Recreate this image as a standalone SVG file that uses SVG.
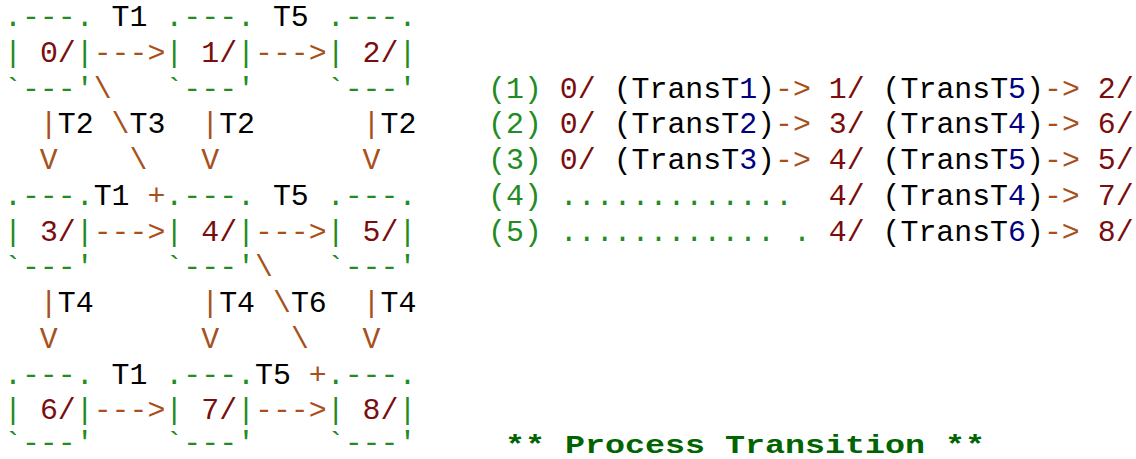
<svg xmlns="http://www.w3.org/2000/svg" width="1136" height="459" viewBox="0 0 1136 459">
<style>
text{font-family:"Liberation Mono","Courier New",monospace;font-size:29.88px;white-space:pre}
.g{fill:#228b22}
.m{fill:#7a0d0d}
.b{fill:#a8501c}
.k{fill:#000000}
.n{fill:#000080}
.title{font-weight:bold;fill:#006400;font-size:26px}
</style>
<rect width="1136" height="459" fill="#ffffff"/>
<g id="node-0">
<text class="g" x="4" y="26">.---.</text>
<text x="4" y="61.75" xml:space="preserve"><tspan class="g">|</tspan> <tspan class="m">0/</tspan><tspan class="g">|</tspan></text>
<text class="g" x="4" y="97.5">`---'</text>
</g>
<g id="node-1">
<text class="g" x="165.37" y="26">.---.</text>
<text x="165.37" y="61.75" xml:space="preserve"><tspan class="g">|</tspan> <tspan class="m">1/</tspan><tspan class="g">|</tspan></text>
<text class="g" x="165.37" y="97.5">`---'</text>
</g>
<g id="node-2">
<text class="g" x="326.74" y="26">.---.</text>
<text x="326.74" y="61.75" xml:space="preserve"><tspan class="g">|</tspan> <tspan class="m">2/</tspan><tspan class="g">|</tspan></text>
<text class="g" x="326.74" y="97.5">`---'</text>
</g>
<g id="node-3">
<text class="g" x="4" y="204.75">.---.</text>
<text x="4" y="240.5" xml:space="preserve"><tspan class="g">|</tspan> <tspan class="m">3/</tspan><tspan class="g">|</tspan></text>
<text class="g" x="4" y="276.25">`---'</text>
</g>
<g id="node-4">
<text class="g" x="165.37" y="204.75">.---.</text>
<text x="165.37" y="240.5" xml:space="preserve"><tspan class="g">|</tspan> <tspan class="m">4/</tspan><tspan class="g">|</tspan></text>
<text class="g" x="165.37" y="276.25">`---'</text>
</g>
<g id="node-5">
<text class="g" x="326.74" y="204.75">.---.</text>
<text x="326.74" y="240.5" xml:space="preserve"><tspan class="g">|</tspan> <tspan class="m">5/</tspan><tspan class="g">|</tspan></text>
<text class="g" x="326.74" y="276.25">`---'</text>
</g>
<g id="node-6">
<text class="g" x="4" y="383.5">.---.</text>
<text x="4" y="419.25" xml:space="preserve"><tspan class="g">|</tspan> <tspan class="m">6/</tspan><tspan class="g">|</tspan></text>
<text class="g" x="4" y="452">`---'</text>
</g>
<g id="node-7">
<text class="g" x="165.37" y="383.5">.---.</text>
<text x="165.37" y="419.25" xml:space="preserve"><tspan class="g">|</tspan> <tspan class="m">7/</tspan><tspan class="g">|</tspan></text>
<text class="g" x="165.37" y="452">`---'</text>
</g>
<g id="node-8">
<text class="g" x="326.74" y="383.5">.---.</text>
<text x="326.74" y="419.25" xml:space="preserve"><tspan class="g">|</tspan> <tspan class="m">8/</tspan><tspan class="g">|</tspan></text>
<text class="g" x="326.74" y="452">`---'</text>
</g>
<g id="connectors">
<text class="k" x="111.58" y="26">T1</text>
<text class="k" x="272.95" y="26">T5</text>
<text class="b" x="93.65" y="61.75">---&gt;</text>
<text class="b" x="255.02" y="61.75">---&gt;</text>
<text class="b" x="93.65" y="97.5">\</text>
<text x="39.86" y="133.25"><tspan class="b">|</tspan><tspan class="k">T2</tspan></text>
<text x="111.58" y="133.25"><tspan class="b">\</tspan><tspan class="k">T3</tspan></text>
<text x="201.23" y="133.25"><tspan class="b">|</tspan><tspan class="k">T2</tspan></text>
<text x="362.6" y="133.25"><tspan class="b">|</tspan><tspan class="k">T2</tspan></text>
<text class="b" x="39.86" y="169">V</text>
<text class="b" x="129.51" y="169">\</text>
<text class="b" x="201.23" y="169">V</text>
<text class="b" x="362.6" y="169">V</text>
<text class="k" x="93.65" y="204.75">T1</text>
<text class="b" x="147.44" y="204.75">+</text>
<text class="k" x="272.95" y="204.75">T5</text>
<text class="b" x="93.65" y="240.5">---&gt;</text>
<text class="b" x="255.02" y="240.5">---&gt;</text>
<text class="b" x="255.02" y="276.25">\</text>
<text x="39.86" y="312"><tspan class="b">|</tspan><tspan class="k">T4</tspan></text>
<text x="201.23" y="312"><tspan class="b">|</tspan><tspan class="k">T4</tspan></text>
<text x="272.95" y="312"><tspan class="b">\</tspan><tspan class="k">T6</tspan></text>
<text x="362.6" y="312"><tspan class="b">|</tspan><tspan class="k">T4</tspan></text>
<text class="b" x="39.86" y="347.75">V</text>
<text class="b" x="201.23" y="347.75">V</text>
<text class="b" x="290.88" y="347.75">\</text>
<text class="b" x="362.6" y="347.75">V</text>
<text class="k" x="111.58" y="383.5">T1</text>
<text class="k" x="255.02" y="383.5">T5</text>
<text class="b" x="308.81" y="383.5">+</text>
<text class="b" x="93.65" y="419.25">---&gt;</text>
<text class="b" x="255.02" y="419.25">---&gt;</text>
</g>
<g id="paths">
<text x="488.11" y="97.5" xml:space="preserve"><tspan class="g">(1)</tspan> <tspan class="m">0/</tspan> <tspan class="k">(TransT</tspan><tspan class="n">1</tspan><tspan class="k">)</tspan><tspan class="b">-&gt;</tspan> <tspan class="m">1/</tspan> <tspan class="k">(TransT</tspan><tspan class="n">5</tspan><tspan class="k">)</tspan><tspan class="b">-&gt;</tspan> <tspan class="m">2/</tspan></text>
<text x="488.11" y="133.25" xml:space="preserve"><tspan class="g">(2)</tspan> <tspan class="m">0/</tspan> <tspan class="k">(TransT</tspan><tspan class="n">2</tspan><tspan class="k">)</tspan><tspan class="b">-&gt;</tspan> <tspan class="m">3/</tspan> <tspan class="k">(TransT</tspan><tspan class="n">4</tspan><tspan class="k">)</tspan><tspan class="b">-&gt;</tspan> <tspan class="m">6/</tspan></text>
<text x="488.11" y="169" xml:space="preserve"><tspan class="g">(3)</tspan> <tspan class="m">0/</tspan> <tspan class="k">(TransT</tspan><tspan class="n">3</tspan><tspan class="k">)</tspan><tspan class="b">-&gt;</tspan> <tspan class="m">4/</tspan> <tspan class="k">(TransT</tspan><tspan class="n">5</tspan><tspan class="k">)</tspan><tspan class="b">-&gt;</tspan> <tspan class="m">5/</tspan></text>
<text x="488.11" y="204.75" xml:space="preserve"><tspan class="g">(4) .............</tspan>  <tspan class="m">4/</tspan> <tspan class="k">(TransT</tspan><tspan class="n">4</tspan><tspan class="k">)</tspan><tspan class="b">-&gt;</tspan> <tspan class="m">7/</tspan></text>
<text x="488.11" y="240.5" xml:space="preserve"><tspan class="g">(5) ............ .</tspan> <tspan class="m">4/</tspan> <tspan class="k">(TransT</tspan><tspan class="n">6</tspan><tspan class="k">)</tspan><tspan class="b">-&gt;</tspan> <tspan class="m">8/</tspan></text>
</g>
<g id="caption">
<text class="title" x="505" y="453" textLength="480" lengthAdjust="spacingAndGlyphs" xml:space="preserve">** Process Transition **</text>
</g>
</svg>
